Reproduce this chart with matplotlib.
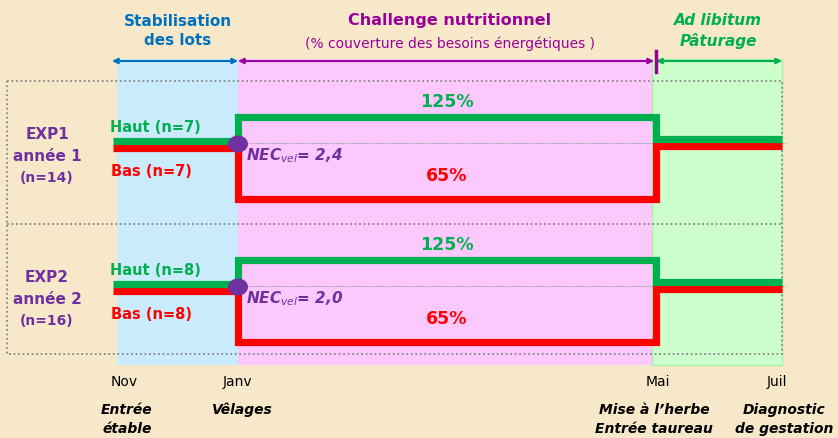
import matplotlib.pyplot as plt
import numpy as np
from matplotlib.patches import Rectangle, Ellipse

# Data
months = ['Nov', 'Janv', 'Mai', 'Juil']
events = ['Entrée\nétable', 'Vêlages', 'Mise à l\u2019herbe\nEntrée taureau', 'Diagnostic\nde gestation']
phases = ['Stabilisation\ndes lots', 'Challenge nutritionnel', 'Ad libitum\nPâturage']
phase_sub = '(% couverture des besoins énergétiques )'
exp_names = ['EXP1', 'EXP2']
exp_years = ['année 1', 'année 2']
n_total = [14, 16]
n_haut = [7, 8]
n_bas = [7, 8]
nec_vel = ['2,4', '2,0']
coverage = [125, 65]   # haut, bas

# Layout (pixel coordinates of the schematic)
W, H = 838, 439
month_x = [117, 238, 654, 782]
line_x0 = 113
row_center = [145, 288]
# offsets of each level from the row centre: stabilisation, challenge, paturage
haut_off = [-3.5, -27.5, -5.5]
bas_off = [3.5, 55, 2]

GREEN = '#00B050'
RED = '#FF0000'
PURPLE = '#7030A0'
MAGENTA = '#990099'
BLUE = '#0070C0'

fig = plt.figure(figsize=(W / 100, H / 100), dpi=100)
fig.patch.set_facecolor('#F6E8C8')
ax = fig.add_axes([0, 0, 1, 1])
ax.set_xlim(0, W)
ax.set_ylim(H, 0)
ax.axis('off')

# phase backgrounds
top, bot = 60, 366
ax.add_patch(Rectangle((month_x[0], top), month_x[1] - month_x[0], bot - top, fc='#C9EBFB', ec='none', zorder=1))
ax.add_patch(Rectangle((month_x[1], top), month_x[2] - month_x[1], bot - top, fc='#FDC8FD', ec='none', zorder=1))
ax.add_patch(Rectangle((month_x[2] - 2, top), month_x[3] - month_x[2] + 2, bot - top, fc='#CCFFCC', ec='#A8F0A8', lw=1, zorder=1))

# dotted frames
ax.add_patch(Rectangle((7, 82), 775, 273, fill=False, ec='#888888', lw=1.3, ls=(0, (1, 1.5)), zorder=2))
ax.plot([7, 782], [225, 225], color='#888888', lw=1.3, ls=(0, (1, 1.5)), zorder=2)

# phase titles and arrows
ax.text((month_x[0] + month_x[1]) / 2, 31, phases[0], ha='center', va='center', color=BLUE,
        fontsize=11, fontweight='bold', linespacing=1.35)
ax.text(450, 20, phases[1], ha='center', va='center', color=MAGENTA, fontsize=11.5, fontweight='bold')
ax.text(450, 44, phase_sub, ha='center', va='center', color=MAGENTA, fontsize=10)
ax.text((month_x[2] + month_x[3]) / 2, 31, phases[2], ha='center', va='center', color=GREEN,
        fontsize=11, fontweight='bold', fontstyle='italic', linespacing=1.35)

def harrow(x0, x1, y, color):
    ax.annotate('', xy=(x1, y), xytext=(x0, y),
                arrowprops=dict(arrowstyle='<|-|>', color=color, lw=1.5, mutation_scale=8,
                                shrinkA=0, shrinkB=0), zorder=5)

harrow(month_x[0] - 5, month_x[1], 62, BLUE)
harrow(month_x[1], month_x[2], 62, MAGENTA)
harrow(month_x[2] + 2, month_x[3], 62, GREEN)
ax.plot([month_x[2] + 2, month_x[2] + 2], [52, 73], color=MAGENTA, lw=2.5, zorder=6)

# experiment rows
for i, c in enumerate(row_center):
    ax.plot([month_x[1], month_x[3] + 4], [c - 1, c - 1], color='#8AA0A0', lw=0.8, ls=(0, (1, 1)), zorder=3)

    xs = [line_x0, month_x[1], month_x[1], month_x[2] + 2, month_x[2] + 2, month_x[3]]
    yh = [c + haut_off[0], c + haut_off[0], c + haut_off[1], c + haut_off[1], c + haut_off[2], c + haut_off[2]]
    yb = [c + bas_off[0], c + bas_off[0], c + bas_off[1], c + bas_off[1], c + bas_off[2], c + bas_off[2]]
    ax.plot(xs, yb, color=RED, lw=5.2, solid_capstyle='butt', solid_joinstyle='miter', zorder=4)
    ax.plot(xs, yh, color=GREEN, lw=5.2, solid_capstyle='butt', solid_joinstyle='miter', zorder=4)

    ax.add_patch(Ellipse((month_x[1], c), 20, 17, fc=PURPLE, ec='none', zorder=6))

    ax.text(447, c - 43, f'{coverage[0]}%', ha='center', va='center', color=GREEN, fontsize=12.5, fontweight='bold')
    ax.text(447, c + 31, f'{coverage[1]}%', ha='center', va='center', color=RED, fontsize=12.5, fontweight='bold')
    ax.text(246, c + 11, f'NEC$_{{vel}}$= {nec_vel[i]}', ha='left', va='center', color=PURPLE,
            fontsize=11, fontweight='bold', fontstyle='italic')
    ax.text(110, c - 17, f'Haut (n={n_haut[i]})', ha='left', va='center', color=GREEN, fontsize=10.5, fontweight='bold')
    ax.text(111, c + 27, f'Bas (n={n_bas[i]})', ha='left', va='center', color=RED, fontsize=10.5, fontweight='bold')

    ax.text(47, c - 10, exp_names[i], ha='center', va='center', color=PURPLE, fontsize=11, fontweight='bold')
    ax.text(47, c + 12, exp_years[i], ha='center', va='center', color=PURPLE, fontsize=11, fontweight='bold')
    ax.text(47, c + 33, f'(n={n_total[i]})', ha='center', va='center', color=PURPLE, fontsize=10, fontweight='bold')

# months and events
month_lx = [124, 237, 658, 777]
event_lx = [127, 242, 654, 784]
for m, e, mx, ex in zip(months, events, month_lx, event_lx):
    ax.text(mx, 382, m, ha='center', va='center', color='black', fontsize=10)
    ax.text(ex, 403, e, ha='center', va='top', color='black', fontsize=10,
            fontweight='bold', fontstyle='italic', linespacing=1.45)

fig.savefig('out.png', dpi=100, facecolor=fig.get_facecolor())
